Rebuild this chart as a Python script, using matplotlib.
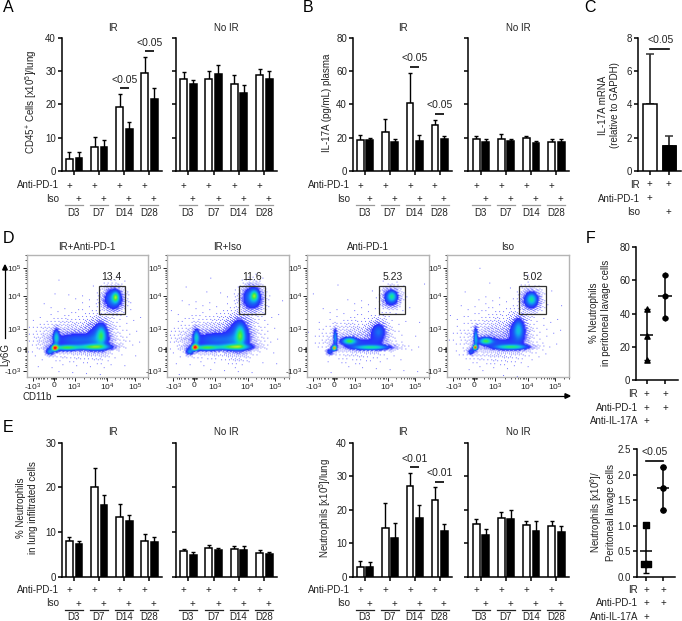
import numpy as np
import matplotlib
matplotlib.use("Agg")
import matplotlib.pyplot as plt
from matplotlib.colors import LinearSegmentedColormap
from matplotlib.patches import Rectangle

plt.rcParams['font.family'] = ['Liberation Sans', 'DejaVu Sans']
plt.rcParams['mathtext.fontset'] = 'custom'
plt.rcParams['mathtext.rm'] = 'Liberation Sans'
plt.rcParams['mathtext.it'] = 'Liberation Sans'
plt.rcParams['mathtext.default'] = 'regular'

W, H = 682, 621
TXT = '#222222'
DAYS = ['D3', 'D7', 'D14', 'D28']

# panel A
a_ir_open = [3.5, 7.2, 19.2, 29.5]
a_ir_open_top = [5.6, 10.2, 23.2, 34.3]
a_ir_fill = [3.8, 7.2, 12.7, 21.7]
a_ir_fill_top = [5.6, 9.4, 14.7, 24.8]
a_no_open = [27.7, 27.5, 26.0, 28.7]
a_no_open_top = [29.8, 30.0, 28.8, 30.6]
a_no_fill = [26.0, 29.1, 23.5, 27.5]
a_no_fill_top = [27.4, 31.8, 25.8, 30.0]
a_sig = [(2, 24.8, '<0.05'), (3, 35.9, '<0.05')]

# panel B
b_ir_open = [18.5, 23.3, 41.0, 27.5]
b_ir_open_top = [21.5, 31.5, 59.0, 30.5]
b_ir_fill = [18.5, 17.5, 18.2, 19.3]
b_ir_fill_top = [20.0, 19.5, 21.5, 21.0]
b_no_open = [19.0, 19.0, 20.0, 17.5]
b_no_open_top = [21.2, 22.5, 21.2, 19.0]
b_no_fill = [17.7, 18.0, 17.0, 17.2]
b_no_fill_top = [19.0, 19.0, 18.3, 19.0]
b_sig = [(2, 62.6, '<0.05'), (3, 34.2, '<0.05')]

# panel C
c_vals = [4.0, 1.5]
c_tops = [7.0, 2.1]

# panel E, left pair
e1_ir_open = [8.0, 20.0, 13.3, 8.1]
e1_ir_open_top = [9.0, 24.3, 16.2, 9.5]
e1_ir_fill = [7.4, 16.0, 12.4, 7.7]
e1_ir_fill_top = [8.0, 18.2, 13.8, 9.0]
e1_no_open = [5.8, 6.5, 6.1, 5.4]
e1_no_open_top = [6.2, 7.0, 6.9, 5.9]
e1_no_fill = [4.9, 6.0, 5.9, 5.0]
e1_no_fill_top = [5.6, 6.5, 6.8, 5.5]

# panel E, right pair
e2_ir_open = [3.0, 14.5, 27.0, 23.0]
e2_ir_open_top = [4.8, 22.0, 31.0, 26.7]
e2_ir_fill = [2.8, 11.7, 17.6, 13.5]
e2_ir_fill_top = [4.3, 16.0, 21.3, 15.7]
e2_no_open = [15.8, 17.6, 15.5, 15.2]
e2_no_open_top = [17.3, 19.2, 16.5, 16.6]
e2_no_fill = [12.3, 17.1, 13.7, 13.4]
e2_no_fill_top = [14.2, 19.8, 16.5, 15.1]
e2_sig = [(2, 32.6, '<0.01'), (3, 28.3, '<0.01')]

# panel F
f1_pts_a = [43.0, 26.5, 12.0]
f1_pts_a_x = [0, 0, 0]
f1_pts_b = [63.0, 50.5, 37.3]
f1_mean = [27.3, 50.5]
f1_low = [12.0, 37.3]
f1_high = [43.0, 63.0]
f2_pts_a = [1.02, 0.25, 0.25]
f2_pts_a_x = [0, -0.12, 0.12]
f2_pts_b = [2.15, 1.74, 1.31]
f2_mean = [0.51, 1.74]
f2_low = [0.07, 1.31]
f2_high = [0.97, 2.15]

# flow plots: populations in axis fractions
# order: gate core, gate halo, origin, origin tail, spike, band L, band R, over band, hump core, hump halo, haze, far
titles = ['IR+Anti-PD-1', 'IR+Iso', 'Anti-PD-1', 'Iso']
gate_pct = ['13.4', '11.6', '5.23', '5.02']
pop_x = [
    [.74, .72, .233, .19, .245, .33, .56, .43, .62, .60, .40, .50],
    [.729, .71, .233, .19, .245, .33, .56, .43, .611, .60, .40, .50],
    [.709, .70, .228, .19, .236, .352, .53, .43, .60, .59, .40, .50],
    [.707, .70, .235, .20, .24, .323, .53, .43, .597, .59, .40, .50],
]
pop_y = [
    [.665, .65, .242, .21, .33, .245, .25, .31, .35, .34, .32, .36],
    [.677, .66, .247, .21, .33, .245, .25, .31, .35, .35, .33, .38],
    [.673, .66, .242, .21, .33, .30, .247, .29, .385, .36, .31, .36],
    [.65, .64, .247, .21, .33, .30, .25, .29, .40, .37, .31, .40],
]
pop_sx = [
    [.018, .048, .016, .020, .016, .075, .085, .13, .024, .055, .16, .25],
    [.020, .050, .016, .020, .016, .075, .085, .13, .024, .060, .16, .25],
    [.022, .042, .013, .018, .010, .036, .10, .12, .030, .050, .13, .22],
    [.024, .045, .012, .018, .010, .036, .09, .11, .025, .050, .13, .22],
]
pop_sy = [
    [.028, .055, .016, .016, .042, .015, .016, .032, .048, .075, .08, .17],
    [.028, .060, .016, .016, .042, .015, .016, .036, .055, .085, .08, .17],
    [.026, .045, .013, .016, .045, .018, .014, .020, .040, .060, .08, .17],
    [.030, .048, .013, .016, .050, .018, .014, .020, .055, .070, .09, .17],
]
pop_w = [
    [.44, .30, .95, .30, .36, .55, .55, .17, .34, .20, .05, .004],
    [.42, .30, .95, .30, .36, .55, .55, .18, .36, .22, .05, .004],
    [.30, .24, .90, .20, .30, .50, .48, .10, .11, .13, .04, .003],
    [.27, .24, .95, .20, .34, .50, .50, .10, .22, .17, .05, .005],
]
gate_x = [(.60, .82), (.60, .816), (.60, .82), (.603, .822)]
gate_y = (.526, .76)
flow_tick_pos = [.05, .227, .40, .671, .904]
flow_tick_lab = ['-$10^{3}$', '0', '$10^{3}$', '$10^{4}$', '$10^{5}$']

fig = plt.figure(figsize=(W / 100, H / 100), dpi=100)
fig.patch.set_facecolor('white')

flow_cmap = LinearSegmentedColormap.from_list(
    'flow', [(0, '#2a2aff'), (.12, '#1a5cf5'), (.28, '#10b0f0'), (.42, '#10e0b0'), (.55, '#40e840'),
             (.72, '#e0f020'), (.86, '#ff9010'), (1, '#ff1010')])


def px_axes(left, right, top, bottom):
    return fig.add_axes([left / W, 1 - bottom / H, (right - left) / W, (bottom - top) / H])


def ptext(x, y, s, **kw):
    kw.setdefault('ha', 'center')
    kw.setdefault('va', 'center')
    kw.setdefault('fontsize', 7)
    kw.setdefault('color', TXT)
    fig.text(x / W, 1 - y / H, s, **kw)


def style_axes(ax, lw=1.1):
    ax.spines['top'].set_visible(False)
    ax.spines['right'].set_visible(False)
    ax.spines['left'].set_linewidth(lw)
    ax.spines['bottom'].set_linewidth(lw)
    ax.tick_params(width=lw, length=2.6, labelsize=7, pad=1.5, labelcolor=TXT)
    ax.patch.set_alpha(0)


def bars(ax, opened, opened_top, filled, filled_top, sig=(), rows=(185, 199, 204, 213), grey='#999999'):
    x = np.arange(4)
    bar_w = 0.27
    off = 0.19
    for pos, vals, tops, col in [(x - off, opened, opened_top, 'white'), (x + off, filled, filled_top, 'black')]:
        ax.bar(pos, vals, bar_w, facecolor=col, edgecolor='black', linewidth=1.1, zorder=3)
        ax.errorbar(pos, vals, yerr=[np.zeros(4), np.array(tops) - np.array(vals)], fmt='none',
                    ecolor='black', elinewidth=1.0, capsize=1.4, capthick=1.0, zorder=2)
    ax.set_xlim(-0.5, 3.5)
    ax.set_xticks(x)
    ax.set_xticklabels([])
    style_axes(ax)
    for g, y, lab in sig:
        ax.plot([g - off, g + off], [y, y], color='black', lw=1.2, solid_capstyle='butt', zorder=4)
        ax.annotate(lab, (g, y), xytext=(0, 6.3), textcoords='offset points', ha='center', va='center',
                    fontsize=7.5, color=TXT, annotation_clip=False)
    # + rows and day labels under the axis
    box = ax.get_position()
    bottom = (1 - box.y0) * H
    height = box.height * H
    tr = ax.get_xaxis_transform()
    fy = lambda p: (bottom - p) / height
    for g in x:
        ax.text(g - off, fy(rows[0]), '+', transform=tr, ha='center', va='center', fontsize=7, color=TXT)
        ax.text(g + off - 0.02, fy(rows[1]), '+', transform=tr, ha='center', va='center', fontsize=7, color=TXT)
        ax.plot([g - 0.36, g + 0.36], [fy(rows[2])] * 2, transform=tr, color=grey, lw=0.9, clip_on=False)
        ax.text(g - 0.02, fy(rows[3]), DAYS[g], transform=tr, ha='center', va='center', fontsize=7, color=TXT)


def bar_pair(lx1, rx1, lx2, rx2, top, bottom, ymax, yticks, data1, data2, sig, rows, grey, ylabel, ylab_x, sub_y, row_lab_x):
    ax1 = px_axes(lx1, rx1, top, bottom)
    bars(ax1, *data1, sig=sig, rows=rows, grey=grey)
    ax1.set_ylim(0, ymax)
    ax1.set_yticks(yticks)
    ax2 = px_axes(lx2, rx2, top, bottom)
    bars(ax2, *data2, rows=rows, grey=grey)
    ax2.set_ylim(0, ymax)
    ax2.set_yticks(yticks)
    ax2.set_yticklabels([])
    ptext((lx1 + rx1) / 2 + 1, sub_y, 'IR', fontsize=7)
    ptext((lx2 + rx2) / 2 + 0, sub_y, 'No IR', fontsize=7)
    ptext(ylab_x, (top + bottom) / 2 - 2, ylabel, rotation=90, fontsize=7, linespacing=1.25)
    ptext(row_lab_x, rows[0], 'Anti-PD-1', ha='right', fontsize=7)
    ptext(row_lab_x, rows[1] - 0.5, 'Iso', ha='right', fontsize=7)
    return ax1, ax2


# top row bars
bar_pair(61.7, 162, 175.7, 277, 37.7, 171, 40, [0, 10, 20, 30, 40],
         (a_ir_open, a_ir_open_top, a_ir_fill, a_ir_fill_top),
         (a_no_open, a_no_open_top, a_no_fill, a_no_fill_top),
         a_sig, (185.5, 199, 204.5, 213), '#999999', 'CD45$^{+}$ Cells [x10$^{5}$]/lung', 31.5, 28, 59)
bar_pair(352.7, 452, 468.3, 569, 37.7, 171, 80, [0, 20, 40, 60, 80],
         (b_ir_open, b_ir_open_top, b_ir_fill, b_ir_fill_top),
         (b_no_open, b_no_open_top, b_no_fill, b_no_fill_top),
         b_sig, (185.5, 199, 204.5, 213), '#999999', 'IL-17A (pg/mL) plasma', 326.5, 28, 350)

# panel C
ax = px_axes(637.7, 681, 37.7, 171)
xc = np.array([0, 1])
ax.bar(xc, c_vals, 0.68, facecolor='white', edgecolor='black', linewidth=1.1, zorder=3)
ax.bar(xc[1], c_vals[1], 0.68, facecolor='black', edgecolor='black', linewidth=1.1, zorder=3)
ax.errorbar(xc, c_vals, yerr=[[0, 0], np.array(c_tops) - np.array(c_vals)], fmt='none', ecolor='#333333',
            elinewidth=1.3, capsize=2.6, capthick=1.1, zorder=2)
ax.set_xlim(-0.63, 1.6)
ax.set_ylim(0, 8)
ax.set_yticks([0, 2, 4, 6, 8])
ax.set_xticks(xc)
ax.set_xticklabels([])
style_axes(ax)
ax.plot([0, 1], [7.3, 7.3], color='black', lw=1.2, clip_on=False)
ax.annotate('<0.05', (0.55, 7.3), xytext=(0, 6.5), textcoords='offset points', ha='center', va='center',
            fontsize=7.5, color=TXT, annotation_clip=False)
ptext(609, 105, 'IL-17A mRNA\n(relative to GAPDH)', rotation=90, fontsize=7, linespacing=1.2)
for lab, y, on in [('IR', 184.5, (1, 1)), ('Anti-PD-1', 198.5, (1, 0)), ('Iso', 212, (0, 1))]:
    ptext(640, y, lab, ha='right', fontsize=7)
    for px_, use in zip((649, 668.5), on):
        if use:
            ptext(px_, y, '+')


def flow(left, idx):
    top, bottom = 255, 376.7
    ax = px_axes(left, left + 121.5, top, bottom)
    n = 122
    g = (np.arange(n) + 0.5) / n
    xx, yy = np.meshgrid(g, g)
    d = np.zeros_like(xx)
    for cx, cy, sx, sy, w in zip(pop_x[idx], pop_y[idx], pop_sx[idx], pop_sy[idx], pop_w[idx]):
        d += w * np.exp(-0.5 * ((xx - cx) / sx) ** 2 - 0.5 * ((yy - cy) / sy) ** 2)
    # ordered dither for the thin outer events
    ii, jj = np.meshgrid(np.arange(n) + 13 * idx, np.arange(n) + 7 * idx)
    thr = (ii * 0.7548777 + jj * 0.5698403) % 1
    img = flow_cmap(np.clip((d - 0.1) / 0.9, 0, 1))
    low = d < 0.1
    sparse = d / 0.1 < thr
    img[low & sparse] = (1, 1, 1, 1)
    img[low & ~sparse, :3] = (0.45, 0.45, 1.0)
    ax.imshow(img, origin='lower', extent=(0, 1, 0, 1), aspect='auto', interpolation='bilinear', zorder=1)
    ax.add_patch(Rectangle((gate_x[idx][0], gate_y[0]), gate_x[idx][1] - gate_x[idx][0], gate_y[1] - gate_y[0],
                           fill=False, edgecolor='#333333', lw=0.9, zorder=3))
    ax.text((gate_x[idx][0] + gate_x[idx][1]) / 2 + 0.0, 0.83, gate_pct[idx], ha='center', va='center',
            fontsize=7.5, color=TXT)
    ax.set_xlim(0, 1)
    ax.set_ylim(0, 1)
    for s in ax.spines.values():
        s.set_color('#b4b4b4')
        s.set_linewidth(1.0)
    ax.set_xticks(flow_tick_pos)
    ax.set_xticklabels(flow_tick_lab)
    ax.set_yticks(flow_tick_pos)
    ax.set_yticklabels(flow_tick_lab)
    ax.tick_params(axis='both', which='major', length=2.6, width=0.6, labelsize=6, pad=1, labelcolor=TXT)
    # minor ticks of the biexponential axis
    minor = []
    for a, b in [(.40, .671), (.671, .904)]:
        minor += [a + np.log10(m) * (b - a) for m in range(2, 10)]
    minor += [.904 + np.log10(m) * .233 for m in (2, 3)]
    minor += [.227 + s * f for s in (-1, 1) for f in (.005, .010, .015, .02, .08, .11, .13, .15)]
    minor += [.05 + f for f in (.05, .09, .12)]
    ax.set_xticks(minor, minor=True)
    ax.set_yticks(minor, minor=True)
    ax.tick_params(axis='both', which='minor', length=1.4, width=0.5)
    ptext(left + 60.5, 247, titles[idx], fontsize=7)


for i, lft in enumerate([26.7, 167.3, 307.3, 447.3]):
    flow(lft, i)

# flow axis arrows
fig.add_artist(plt.Line2D([5 / W, 5 / W], [1 - 338 / H, 1 - 269 / H], color='black', lw=0.9))
fig.add_artist(plt.Polygon([[2.7 / W, 1 - 270 / H], [7.3 / W, 1 - 270 / H], [5 / W, 1 - 265 / H]],
                           closed=True, color='black', transform=fig.transFigure))
fig.add_artist(plt.Line2D([57 / W, 565 / W], [1 - 396 / H, 1 - 396 / H], color='black', lw=0.9))
fig.add_artist(plt.Polygon([[565 / W, 1 - 393.7 / H], [565 / W, 1 - 398.3 / H], [570 / W, 1 - 396 / H]],
                           closed=True, color='black', transform=fig.transFigure))
ptext(5.5, 354, 'Ly6G', rotation=90, fontsize=7)
ptext(37, 396.5, 'CD11b', fontsize=7)

# bottom row bars
e_rows = (590, 604, 609.5, 617.5)
bar_pair(61.7, 162, 175.7, 277, 442.7, 576.7, 30, [0, 10, 20, 30],
         (e1_ir_open, e1_ir_open_top, e1_ir_fill, e1_ir_fill_top),
         (e1_no_open, e1_no_open_top, e1_no_fill, e1_no_fill_top),
         (), e_rows, '#222222', '% Neutrophils\nin lung infiltrated cells', 27, 432, 59)
bar_pair(352.7, 452, 468.3, 569, 442.7, 576.7, 40, [0, 10, 20, 30, 40],
         (e2_ir_open, e2_ir_open_top, e2_ir_fill, e2_ir_fill_top),
         (e2_no_open, e2_no_open_top, e2_no_fill, e2_no_fill_top),
         e2_sig, e_rows, '#222222', 'Neutrophils [x10$^{5}$]/lung', 325, 432, 350)


def dots(left, right, top, bottom, ymax, yticks, ylab, ylab_x, means, lows, highs, pts_a, pts_a_x, pts_b, marks, rows, sig=None):
    ax = px_axes(left, right, top, bottom)
    xp = [0, 1]
    ax.errorbar(xp, means, yerr=[np.array(means) - np.array(lows), np.array(highs) - np.array(means)],
                fmt='none', ecolor='black', elinewidth=1.1, capsize=2.4, capthick=1.0, zorder=2)
    ax.hlines(means, [-0.36, 0.64], [0.36, 1.36], color='black', lw=1.1, zorder=3)
    ax.scatter(pts_a_x, pts_a, marker=marks[0], s=14, color='black', zorder=4, clip_on=False)
    ax.scatter([1] * len(pts_b), pts_b, marker=marks[1], s=14, color='black', zorder=4, clip_on=False)
    ax.set_xlim(-0.58, 1.7)
    ax.set_ylim(0, ymax)
    ax.set_yticks(yticks)
    ax.set_xticks(xp)
    ax.set_xticklabels([])
    style_axes(ax)
    ptext(ylab_x, (top + bottom) / 2 - 1, ylab, rotation=90, fontsize=7, linespacing=1.25)
    xpx = [left + (0.58 / 2.28) * (right - left), left + (1.58 / 2.28) * (right - left)]
    for lab, y, on in zip(['IR', 'Anti-PD-1', 'Anti-IL-17A'], rows, [(1, 1), (1, 1), (1, 0)]):
        ptext(638, y, lab, ha='right', fontsize=7)
        for px_, use in zip(xpx, on):
            if use:
                ptext(px_, y, '+')
    if sig is not None:
        ax.plot([0, 1], [sig, sig], color='black', lw=1.2, clip_on=False)
        ax.annotate('<0.05', (0.5, sig), xytext=(0, 6.2), textcoords='offset points', ha='center', va='center',
                    fontsize=7.5, color=TXT, annotation_clip=False)
    return ax


ax_f1 = dots(636, 678, 247, 380, 80, [0, 20, 40, 60, 80], '% Neutrophils\nin peritoneal lavage cells', 600,
             f1_mean, f1_low, f1_high, f1_pts_a, f1_pts_a_x, f1_pts_b, ('^', 'h'), (394, 407.7, 420.7))
ax_f2 = dots(636.7, 675, 449.3, 577, 2.5, [0, 0.5, 1.0, 1.5, 2.0, 2.5], 'Neutrophils [x10$^{6}$]/\nPeritoneal lavage cells', 602,
             f2_mean, f2_low, f2_high, f2_pts_a, f2_pts_a_x, f2_pts_b, ('s', 'o'), (590, 603, 617), sig=2.27)
ax_f2.set_yticklabels(['0.0', '0.5', '1.0', '1.5', '2.0', '2.5'])

# panel letters
for lab, x, y in [('A', 8, 8), ('B', 308, 8), ('C', 590, 7), ('D', 8, 239), ('E', 8, 427), ('F', 590.5, 239)]:
    ptext(x, y, lab, fontsize=11.5, color='black')

fig.savefig('out.png', dpi=100)
